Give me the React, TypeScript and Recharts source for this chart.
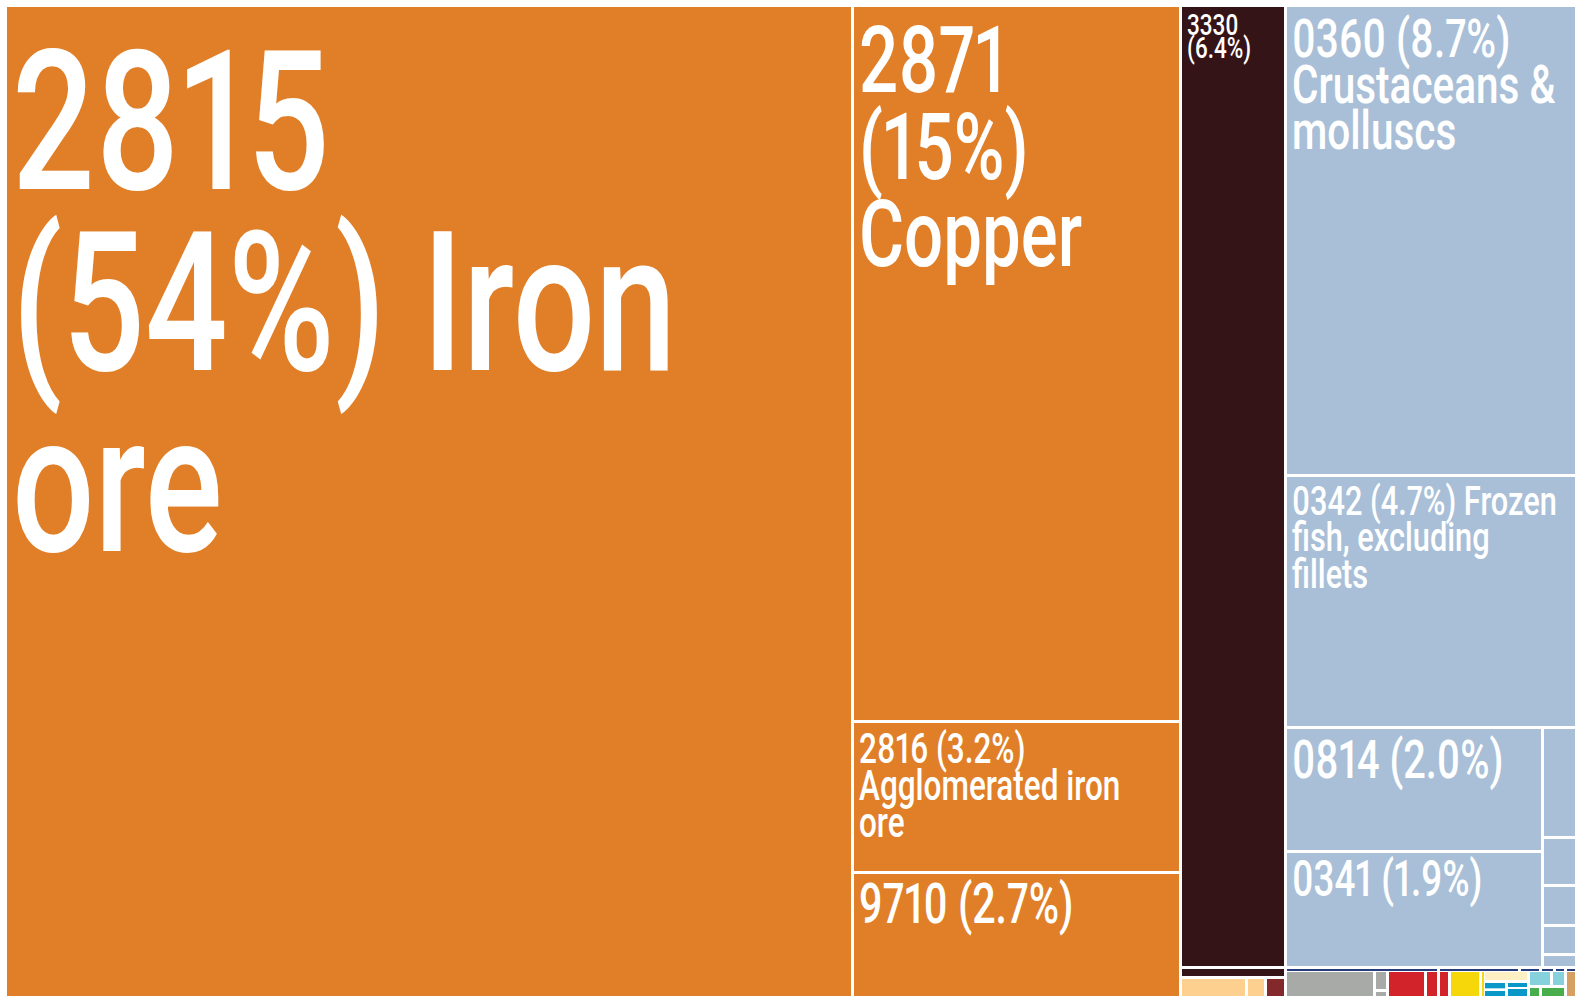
import React from 'react';
import { Treemap } from 'recharts';

// ---------------- DATA (share of total exports, %) ----------------
// Mineral products (orange)
const mineralCodes = ['2815', '2871', '2816', '9710'];
const mineralNames = ['Iron ore', 'Copper', 'Agglomerated iron ore', ''];
const mineralShares = [53.91, 14.99, 3.16, 2.72];

// Petroleum (dark brown)
const petroleumCodes = ['3330', ''];
const petroleumNames = ['', ''];
const petroleumShares = [6.44, 0.067];

// Fish & seafood (light blue)
const fishCodes = ['0360', '0342', '0814', '0341', '', '', '', '', ''];
const fishNames = ['Crustaceans & molluscs', 'Frozen fish, excluding fillets', '', '', '', '', '', '', ''];
const fishShares = [8.73, 4.68, 2.04, 1.9, 0.239, 0.104, 0.087, 0.063, 0.028];

// Small product groups along the bottom edge
const peachShares = [0.105, 0.03];
const wineShares = [0.032];
const navyShares = [0.0293, 0.0155, 0.004, 0.0027, 0.0021, 0.0021];
const grayShares = [0.1818, 0.0166, 0.01];
const redShares = [0.0776, 0.0266, 0.0225];
const yellowShares = [0.0633, 0.0061];
const creamShares = [0.0327];
const blueShares = [0.0115, 0.0192, 0.0082, 0.0204];
const cyanShares = [0.0225, 0.0143];
const greenShares = [0.0123, 0.0266];
const tanShares = [0.0225];

// ---------------- STYLE ----------------
const CHART_W = 1571;
const CHART_H = 997;
const SX = 0.75; // horizontal condensing of the label font
const FONT = 'Roboto, "Noto Sans", sans-serif';
const PAD_X = 5;

const COLORS: Record<string, string> = {
  mineral: '#E07F28',
  petroleum: '#351418',
  fish: '#A9BFD7',
  peach: '#FDD08F',
  wine: '#84292B',
  gray: '#A8AAA7',
  navy: '#263C7C',
  red: '#D2232B',
  yellow: '#F6D80A',
  cream: '#FEF0C3',
  blue: '#0A98C9',
  cyan: '#86D1DB',
  green: '#48AE4B',
  tan: '#D5A062',
};

// label typography by product code: font size, line step, first baseline offset, words per line
const LABEL_STYLE: Record<string, { size: number; lh: number; base: number; words: number[] }> = {
  '2815': { size: 194, lh: 181, base: 182, words: [1, 2, 1] },
  '2871': { size: 92, lh: 87, base: 85, words: [1, 1, 1] },
  '2816': { size: 42, lh: 37, base: 40, words: [2, 2, 1] },
  '9710': { size: 55, lh: 50, base: 49, words: [2] },
  '3330': { size: 30, lh: 23.5, base: 27.5, words: [1, 1] },
  '0360': { size: 54, lh: 46, base: 50.5, words: [2, 2, 1] },
  '0342': { size: 41, lh: 36.5, base: 37.7, words: [3, 2, 1] },
  '0814': { size: 53, lh: 48, base: 48.5, words: [2] },
  '0341': { size: 49, lh: 45, base: 43, words: [2] },
};

// ---------------- TREE ----------------
type Node = { name: string; code?: string; value?: number; color?: string; children?: Node[] };

const leaves = (shares: number[], color: string, codes?: string[], names?: string[]): Node[] =>
  shares.map((v, i) => ({
    name: (names && names[i]) || '',
    code: (codes && codes[i]) || '',
    value: v,
    color,
  }));
const group = (name: string, children: Node[]): Node => ({ name, children });
// zero-size layout spacer: makes the following siblings share one row
const spacer = (): Node => ({ name: '', value: 0 });

const minerals = leaves(mineralShares, COLORS.mineral, mineralCodes, mineralNames);

const treeData: Node[] = [
  group('Mineral products', [minerals[0], group('Mineral products 2', minerals.slice(1))]),
  group('Other', [
    spacer(),
    group('Petroleum column', [
      group('Petroleum', leaves(petroleumShares, COLORS.petroleum, petroleumCodes, petroleumNames)),
      group('Peach', leaves(peachShares, COLORS.peach)),
      ...leaves(wineShares, COLORS.wine),
    ]),
    group('Fish column', [
      group('Fish', leaves(fishShares, COLORS.fish, fishCodes, fishNames)),
      group('Small', [
        spacer(),
        group('Navy', leaves(navyShares, COLORS.navy)),
        group('Bottom', [
          group('Gray', leaves(grayShares, COLORS.gray)),
          group('Red', leaves(redShares, COLORS.red)),
          group('Yellow', leaves(yellowShares, COLORS.yellow)),
          ...leaves(creamShares, COLORS.cream),
          group('Blue', leaves(blueShares, COLORS.blue)),
          group('Cyan', leaves(cyanShares, COLORS.cyan)),
          group('Green', leaves(greenShares, COLORS.green)),
          ...leaves(tanShares, COLORS.tan),
        ]),
      ]),
    ]),
  ]),
];

const fmtShare = (v: number) => (v >= 10 ? v.toFixed(0) : v.toFixed(1)) + '%';

const renderCell = (props: any) => {
  const { x, y, width, height, children, color, code, value, name } = props;
  if ((children && children.length) || !color || !(width > 0) || !(height > 0)) return <g />;
  const gx = Math.min(3, width / 3);
  const gy = Math.min(3, height / 3);
  const rect = <rect x={x} y={y} width={width - gx} height={height - gy} fill={color} />;
  const st = code ? LABEL_STYLE[code] : undefined;
  if (!st) return <g>{rect}</g>;
  const words = `${code} (${fmtShare(value)})${name ? ' ' + name : ''}`.split(' ');
  const lines: string[] = [];
  let k = 0;
  st.words.forEach((c) => {
    lines.push(words.slice(k, k + c).join(' '));
    k += c;
  });
  return (
    <g>
      {rect}
      <g transform={`translate(${x + PAD_X},${y}) scale(${SX},1)`}>
        <text
          fill="#ffffff"
          fontFamily={FONT}
          fontSize={st.size}
          fontWeight={500}
          style={{ fontVariantNumeric: 'proportional-nums' }}
        >
          {lines.map((ln, i) => (
            <tspan key={i} x={0} y={st.base + i * st.lh}>
              {ln}
            </tspan>
          ))}
        </text>
      </g>
    </g>
  );
};

export default function App() {
  return (
    <div
      style={{
        position: 'fixed',
        left: 7,
        top: 7,
        width: CHART_W,
        height: 989,
        overflow: 'hidden',
        background: '#ffffff',
      }}
    >
      <Treemap
        width={CHART_W}
        height={CHART_H}
        data={treeData as any}
        dataKey="value"
        isAnimationActive={false}
        content={renderCell as any}
      />
    </div>
  );
}
